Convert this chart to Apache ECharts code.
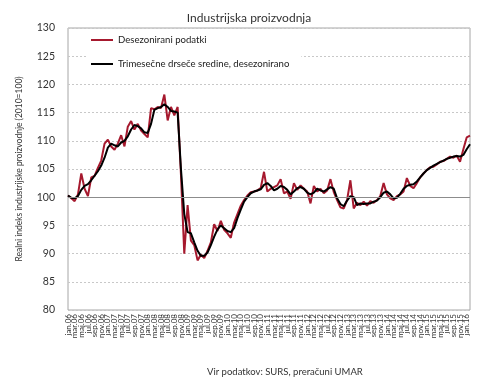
<!DOCTYPE html>
<html><head><meta charset="utf-8">
<script src="https://cdn.jsdelivr.net/npm/echarts@6/dist/echarts.min.js"></script>
<style>html,body{margin:0;padding:0;background:#fff}#c{width:490px;height:383px}</style>
</head><body><div id="c"></div>
<script>
var monthNames = ['jan','feb','mar','apr','maj','jun','jul','avg','sep','okt','nov','dec'];
var years = ['06','07','08','09','10','11','12','13','14','15','16'];
var lastYearMonths = 2; // jan.16, feb.16

var desezonirani = [
 100.3, 99.8, 99.3, 100.5, 104.2, 101.5, 100.2, 103.5, 103.8, 105.2, 106.5, 109.5,
 110.2, 109.0, 108.4, 109.5, 111.0, 109.0, 112.5, 113.5, 112.0, 113.0, 111.8, 111.2,
 110.6, 115.8, 115.6, 116.0, 115.8, 118.2, 113.6, 116.0, 114.5, 116.0, 104.0, 90.0,
 98.6, 92.3, 91.5, 88.8, 89.8, 89.2, 90.5, 92.0, 95.2, 94.0, 95.8, 94.2,
 93.6, 92.8, 95.5, 97.0, 98.5, 99.5, 100.3, 100.9, 101.0, 101.2, 101.6, 104.5,
 101.0, 101.5, 101.8, 102.1, 103.2, 100.7, 101.0, 99.7, 102.5, 101.3, 102.1, 101.5,
 101.0, 98.9, 102.0, 101.0, 101.5, 100.7, 101.2, 103.2, 100.9, 99.5, 98.2, 98.0,
 99.5, 103.0, 98.0, 99.0, 98.6, 99.2, 98.5, 99.3, 99.0, 99.5, 100.2, 102.5,
 100.5, 99.8, 99.5, 100.2, 100.5, 101.0, 103.4, 102.0, 101.6, 102.5, 103.5, 104.2,
 104.8, 105.3, 105.4, 105.8, 106.3, 106.4, 106.8, 107.2, 107.0, 107.4, 106.3, 108.5,
 110.6, 110.9
];
var trimesecne = [
 100.3, 99.9, 99.8, 100.2, 101.3, 102.0, 102.3, 103.0, 103.8, 104.6, 105.6, 107.0,
 108.8, 109.5, 109.2, 109.0, 109.7, 110.0, 110.8, 112.0, 112.8, 112.6, 112.2, 111.5,
 111.4, 113.0, 115.5, 115.8, 116.0, 116.5, 116.0, 115.3, 115.2, 115.0, 105.0, 97.0,
 93.8, 93.6, 92.0, 90.5, 89.6, 89.6, 90.2, 91.5, 93.0, 94.3, 95.0, 94.5,
 94.0, 93.8, 94.5, 96.3, 97.8, 99.2, 100.0, 100.7, 101.0, 101.2, 101.4, 102.2,
 102.5, 102.0, 101.2, 101.5, 102.0, 101.8, 101.3, 100.5, 101.0, 101.6, 101.8, 101.5,
 100.8, 100.5, 100.8, 101.5, 101.2, 101.0, 101.4, 101.8, 101.5, 99.8, 98.8, 98.4,
 99.4, 100.2, 100.0, 98.6, 98.9, 98.8, 98.9, 98.9, 99.2, 99.4, 100.0, 100.8,
 101.0, 100.5, 99.8, 99.9, 100.6, 101.5, 102.0, 102.2, 102.3, 102.8, 103.5, 104.2,
 104.8, 105.2, 105.6, 105.9, 106.2, 106.5, 106.8, 107.0, 107.2, 107.3, 107.2, 107.5,
 108.5, 109.4
];
var yTicks = {min: 80, max: 130, step: 5};

var categories = [];
years.forEach(function (y, yi) {
  var n = (yi === years.length - 1) ? lastYearMonths : 12;
  for (var m = 0; m < n; m++) categories.push(monthNames[m] + '.' + y);
});

var font = 'Lato, "Liberation Sans", sans-serif';
var chart = echarts.init(document.getElementById('c'));
chart.setOption({
  animation: false,
  title: {
    text: 'Industrijska proizvodnja', left: 244, top: 7, textAlign: 'center',
    textStyle: {fontFamily: font, fontSize: 12, fontWeight: 'normal', color: '#333'}
  },
  graphic: [{
    type: 'text', left: 207, top: 367, z: 10,
    style: {text: 'Vir podatkov: SURS, preračuni UMAR', font: '9.5px ' + font, fill: '#333'}
  }],
  legend: {
    orient: 'vertical', left: 87, top: 32,
    backgroundColor: '#fff', padding: [3, 12, 3, 4], itemGap: 14,
    itemWidth: 22, itemHeight: 2, icon: 'rect',
    textStyle: {fontFamily: font, fontSize: 9.6, color: '#222'},
    data: ['Desezonirani podatki', 'Trimesečne drseče sredine, desezonirano']
  },
  grid: {left: 68, right: 20, top: 28, bottom: 73, show: true, borderColor: '#a6a6a6', borderWidth: 1, containLabel: false},
  xAxis: {
    type: 'category', data: categories, boundaryGap: false,
    axisLine: {show: false}, axisTick: {show: false},
    axisLabel: {interval: 0, showMinLabel: true, showMaxLabel: true, hideOverlap: false,
      formatter: function (v, i) { return i % 2 === 0 ? v : ''; },
      rotate: 90, fontSize: 8, lineHeight: 6, fontFamily: font, color: '#333', margin: 4},
    splitLine: {show: false}
  },
  yAxis: {
    type: 'value', min: yTicks.min, max: yTicks.max, interval: yTicks.step,
    name: 'Realni indeks industrijske proizvodnje (2010=100)',
    nameLocation: 'middle', nameGap: 44, nameRotate: 90,
    nameTextStyle: {fontFamily: font, fontSize: 8.5, color: '#333'},
    axisLine: {show: false}, axisTick: {show: false},
    axisLabel: {fontSize: 10.5, fontFamily: font, color: '#333', margin: 13},
    splitLine: {show: true, lineStyle: {color: '#c8c8c8', type: [2, 2], width: 1}}
  },
  series: [
    {
      name: 'base', type: 'line', data: [], z: 1, silent: true,
      markLine: {silent: true, symbol: 'none', label: {show: false},
        lineStyle: {color: '#8c8c8c', type: 'solid', width: 1},
        data: [{yAxis: 100}]}
    },
    {
      name: 'Desezonirani podatki', type: 'line', data: desezonirani, z: 2,
      showSymbol: false, symbol: 'none',
      lineStyle: {color: '#a6192e', width: 2}, itemStyle: {color: '#a6192e'}
    },
    {
      name: 'Trimesečne drseče sredine, desezonirano', type: 'line', data: trimesecne, z: 3,
      showSymbol: false, symbol: 'none',
      lineStyle: {color: '#000', width: 2}, itemStyle: {color: '#000'}
    }
  ]
});
</script></body></html>
